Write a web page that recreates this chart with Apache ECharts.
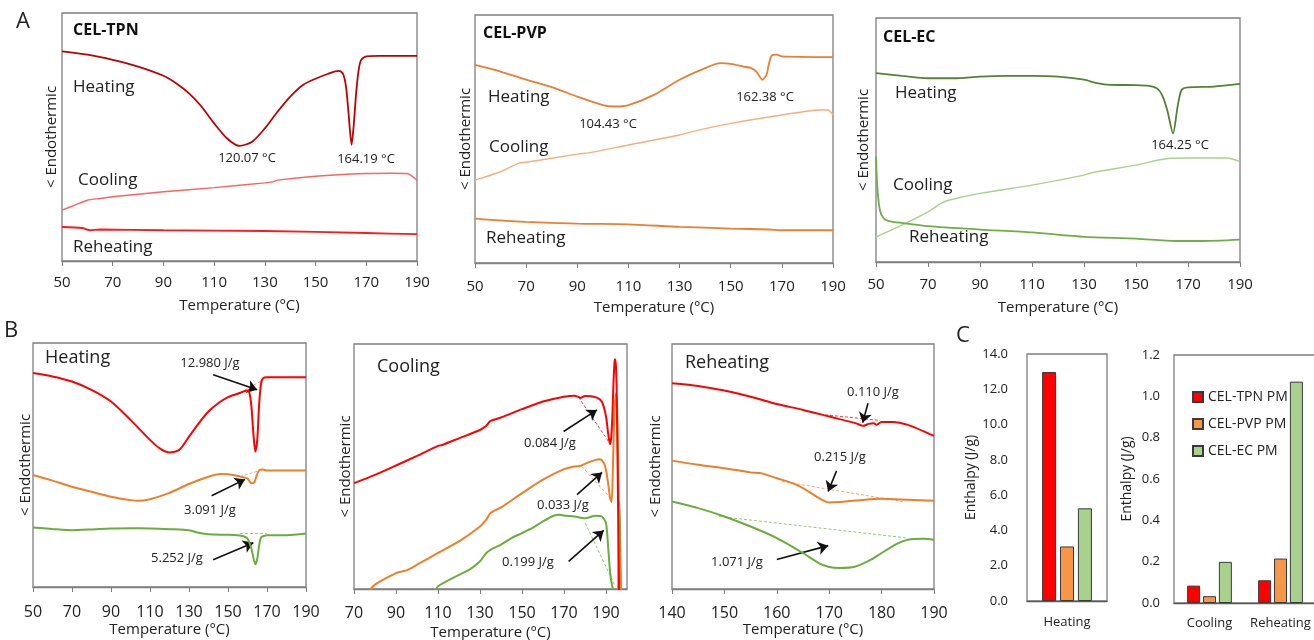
<!DOCTYPE html>
<html>
<head>
<meta charset="utf-8">
<script src="https://cdn.jsdelivr.net/npm/echarts@6/dist/echarts.min.js"></script>
<style>
  html, body { margin: 0; padding: 0; background: #fff; }
  #chart { width: 1314px; height: 640px; }
</style>
</head>
<body>
<div id="chart"></div>
<script>
// DSC traces, [temperature °C, signal in arbitrary units]
const tpnHeat = [[50,84.5],[60,83.2],[70,81.1],[80,78.4],[90,74.7],[95,71.7],[100,67.7],[105,62.3],[110,55.5],[115,49.5],[120,46.4],[125,48.1],[130,53.5],[135,60.2],[140,66.3],[145,71.0],[150,73.5],[155,75.5],[159,76.7],[160,76.4],[161,75.1],[162,70.4],[163,59.6],[164.2,46.8],[165,54.2],[166,67.7],[167,77.1],[168,81.1],[170,82.5],[175,82.7],[190,82.7]];
const tpnCool = [[50,20.5],[55,22.5],[60,24.5],[65,25.2],[70,25.9],[90,27.9],[110,29.6],[130,31.5],[133,31.9],[135,32.6],[150,34.2],[170,35.3],[180,35.4],[186,35.3],[190,32.6]];
const tpnReheat = [[50,13.7],[58,13.3],[61,12.4],[65,12.7],[90,12.4],[130,12.1],[170,11.3],[190,10.8]];

const pvpHeat = [[50,79.9],[60,77.2],[70,73.9],[80,70.9],[90,67.1],[100,63.7],[104.4,63.1],[110,63.7],[120,67.8],[130,73.9],[140,78.6],[146,80.6],[150,80.3],[155,79.2],[158,78.6],[160,77.2],[162.4,73.9],[164,75.9],[165,80.6],[166,83.6],[168,84.0],[170,83.3],[190,83.0]];
const pvpCool = [[50,33.4],[60,36.8],[67,40.2],[70,40.6],[90,43.9],[95,44.5],[110,47.6],[130,51.6],[135,53.0],[150,56.3],[170,59.7],[185,61.7],[188,61.7],[190,59.7]];
const pvpReheat = [[50,17.9],[55,17.5],[70,16.6],[90,15.9],[110,15.6],[130,14.6],[150,13.9],[165,13.5],[170,13.2],[190,13.2]];

const ecHeat = [[50,77.4],[60,76.3],[70,75.3],[80,75.3],[90,76.0],[100,76.3],[110,76.3],[120,76.0],[130,74.7],[135,73.3],[140,72.6],[150,72.5],[155,72.2],[158,71.2],[160,68.5],[162,62.3],[164.25,52.7],[166,63.7],[167.5,70.5],[170,71.6],[180,71.9],[190,73.0]];
const ecCool = [[50,10.3],[60,15.1],[70,20.5],[75,24.0],[78,25.3],[90,28.1],[110,31.5],[130,35.6],[133,36.6],[150,39.7],[163,42.5],[170,42.6],[185,42.6],[190,41.1]];
const ecReheat = [[50,43.2],[50.5,30.8],[51.5,21.2],[53,17.8],[55,16.8],[60,16.0],[70,14.7],[90,13.3],[110,12.1],[130,10.3],[150,9.6],[165,8.6],[175,8.6],[190,9.2]];

// panel B, heating
const bHeatTpn = [[50,87.7],[60,86.3],[70,84.2],[80,80.8],[90,76.0],[100,68.5],[110,60.3],[115,56.8],[120,55.1],[125,56.2],[130,61.6],[135,67.1],[140,71.9],[145,75.3],[150,77.8],[155,79.2],[160,80.5],[161,79.5],[162,74.0],[163,63.0],[164,55.5],[165,60.3],[166,75.3],[167,83.6],[168,85.6],[170,86.0],[190,86.0]];
const bHeatPvp = [[50,45.9],[60,43.6],[70,41.1],[80,39.0],[90,37.0],[100,35.6],[104,35.3],[110,36.0],[120,38.6],[130,42.2],[140,45.2],[146,46.3],[150,46.2],[155,45.5],[158,44.9],[160,44.5],[162,42.5],[163.5,42.9],[164.5,45.2],[166,47.9],[168,48.2],[170,47.7],[190,47.7]];
const bHeatEc = [[50,24.4],[60,23.8],[70,23.3],[80,23.6],[90,24.0],[100,24.1],[110,24.0],[120,23.7],[130,23.3],[135,22.2],[140,21.6],[150,21.4],[155,21.2],[158,20.8],[160,19.9],[162,15.8],[164,9.3],[165,11.6],[166,17.1],[167,20.3],[170,21.2],[180,21.2],[190,21.9]];

// panel B, cooling
const bCoolTpn = [[70,43.2],[80,46.6],[90,50.4],[100,54.3],[110,58.4],[112,58.8],[120,61.5],[130,64.9],[133,66.6],[135,68.6],[140,70.0],[150,73.4],[160,76.5],[170,78.5],[175,78.9],[177,78.3],[178,78.0],[180,78.8],[185,78.3],[188,76.5],[190,70.4],[191,63.6],[191.9,59.1],[192.5,62],[193,70],[193.6,85],[194.1,93],[194.4,93.8],[194.8,90],[195.1,80],[195.4,60],[195.8,30],[196.2,0],[196.5,-5]];
const bCoolPvp = [[76,-2],[80,1.8],[90,6.5],[93,7.2],[95,7.6],[100,9.9],[110,14.7],[120,19.4],[130,25.5],[133,28.3],[135,31.0],[140,33.3],[150,39.1],[160,44.6],[170,48.9],[175,50.0],[178,50.3],[180,51.1],[185,52.7],[187,53.0],[189,51.4],[190,48.6],[191,43.2],[192,37],[192.7,35.5],[193.3,50],[194,72],[194.8,80],[195.4,70],[196,40],[196.6,12],[197.2,-3]];
const bCoolEc = [[108.5,-2],[110,1.1],[120,5.8],[125,7.9],[130,11.3],[133,14.7],[135,16.0],[140,18.1],[145,20.8],[150,22.8],[155,24.9],[160,27.6],[165,29.9],[168,30.3],[170,30.0],[175,29.6],[180,28.9],[185,29.9],[188,29.6],[190,26.9],[191,17.4],[192,6.5],[193,1],[194.3,-2],[195.6,-2],[196.1,25],[196.4,35],[196.7,25],[197.1,-2]];

// panel B, reheating
const bReTpn = [[140,84.0],[145,82.9],[150,81.0],[155,78.5],[160,75.5],[165,73.1],[170,70.4],[175,67.7],[176.5,66.6],[177.5,67.4],[178.5,67.7],[179,67.0],[180,68.2],[182,68.2],[185,67.0],[190,62.5]];
const bRePvp = [[140,52.4],[145,50.7],[150,49.3],[155,47.6],[157,47.3],[160,45.2],[163,43.2],[165,41.2],[167,38.5],[169,36.0],[170,35.3],[172,35.5],[175,36.1],[180,36.8],[185,36.4],[190,36.0]];
const bReEc = [[140,35.7],[145,33.0],[150,29.6],[155,25.5],[160,20.8],[165,14.7],[168,10.6],[170,9.0],[172,8.6],[175,9.2],[178,12.0],[180,14.7],[183,18.5],[185,20.1],[188,20.5],[190,20.1]];

// peak baselines and arrows [[T1,v1],[T2,v2]]
const heatBase = [[[158.7,80.8],[168.1,84.9]], [[156.1,45.2],[168.1,48.2]], [[156.1,21.9],[169.8,21.9]]];
const heatArrows = [[[142.4,87.0],[165,80.8]], [[141.6,37.4],[158.7,44.1]], [[142.4,11.2],[163,18.1]]];
const coolBase = [[[176.9,78.3],[192,59.2]], [[178.5,50],[192.9,36.4]], [[180.1,26.9],[194.4,1.1]]];
const coolArrows = [[[169.8,64.3],[185.7,73.1]], [[176.2,38.5],[188.1,47.6]], [[172.2,11.3],[188.9,23.9]]];
const reBase = [[[169.2,71.1],[179.7,68.8]], [[161,43.9],[184,35.7]], [[149,29.6],[185,20.8]]];
const reArrows = [[[177.4,75.8],[176.4,67.9]], [[171.4,48.2],[169.8,39.8]], [[160,12.0],[169.8,17.7]]];

// panel C, enthalpy (J/g)
const samples = ['CEL-TPN PM', 'CEL-PVP PM', 'CEL-EC PM'];
const heatCats = ['Heating'];
const heatEnthalpy = [[12.980], [3.091], [5.252]];
const otherCats = ['Cooling', 'Reheating'];
const otherEnthalpy = [[0.084, 0.110], [0.033, 0.215], [0.199, 1.071]];

const FONT = '"Open Sans"';
const TXT = '#222';
const BORDER = '#7f7f7f';
const bColors = ['#ff0000', '#f07e26', '#6aad3d'];
const barColors = ['#ff0000', '#f79646', '#a9d18e'];

const chart = echarts.init(document.getElementById('chart'));

const grids = [
  { left: 62, top: 13, width: 355, height: 248 },
  { left: 475, top: 15, width: 358, height: 248 },
  { left: 876, top: 18, width: 364, height: 244 },
  { left: 33, top: 343, width: 273, height: 244 },
  { left: 354, top: 344, width: 273, height: 245 },
  { left: 672, top: 344, width: 262, height: 245 },
  { left: 1027, top: 354, width: 80, height: 247 },
  { left: 1174, top: 355, width: 142, height: 248 }
].map(g => Object.assign({ show: true, borderColor: BORDER, borderWidth: 1.3, backgroundColor: 'transparent', outerBoundsMode: 'none' }, g));

function tempAxis(gi, min, max, interval, size, nameSize, margin, gap) {
  return {
    type: 'value', gridIndex: gi, min: min, max: max, interval: interval,
    name: 'Temperature (°C)', nameLocation: 'middle', nameGap: gap,
    nameTextStyle: { fontFamily: FONT, fontSize: nameSize, color: TXT },
    axisLine: { show: true, lineStyle: { color: BORDER, width: 1.3 } },
    axisTick: { show: true, length: 5, lineStyle: { color: BORDER } },
    axisLabel: { fontFamily: FONT, fontSize: size, color: TXT, margin: margin, showMaxLabel: max <= 190 },
    splitLine: { show: false }
  };
}

function endoAxis(gi, gap, size) {
  return {
    type: 'value', gridIndex: gi, min: 0, max: 100,
    name: '< Endothermic', nameLocation: 'middle', nameGap: gap, nameRotate: 90,
    nameTextStyle: { fontFamily: FONT, fontSize: size, color: TXT },
    axisLine: { show: false }, axisTick: { show: false }, axisLabel: { show: false }, splitLine: { show: false }
  };
}

function curve(gi, data, color, width) {
  return {
    type: 'line', xAxisIndex: gi, yAxisIndex: gi, data: data,
    showSymbol: false, smooth: 0.25, silent: true,
    lineStyle: { color: color, width: width }
  };
}

function segs(gi, pairs, colors, dashed) {
  return {
    type: 'lines', coordinateSystem: 'cartesian2d', xAxisIndex: gi, yAxisIndex: gi, silent: true,
    symbol: dashed ? 'none' : ['none', 'arrow'], symbolSize: dashed ? 0 : 10,
    data: pairs.map((p, i) => ({
      coords: p,
      lineStyle: { color: dashed ? colors[i] : '#111', width: dashed ? 1 : 1.6, type: dashed ? [3, 2] : 'solid', opacity: 1 }
    }))
  };
}

function enthalpyAxis(gi, max, interval, gap, margin) {
  return {
    type: 'value', gridIndex: gi, min: 0, max: max, interval: interval,
    name: 'Enthalpy (J/g)', nameLocation: 'middle', nameGap: gap,
    nameTextStyle: { fontFamily: FONT, fontSize: 14, color: TXT },
    axisLine: { show: false }, axisTick: { show: false }, splitLine: { show: false },
    axisLabel: { fontFamily: FONT, fontSize: 13, color: TXT, margin: margin, formatter: v => v.toFixed(1) }
  };
}

function catAxis(gi, cats, margin) {
  return {
    type: 'category', gridIndex: gi, data: cats,
    axisLine: { show: true, lineStyle: { color: '#595959', width: 1.3 } },
    axisTick: { show: false },
    axisLabel: { fontFamily: FONT, fontSize: 13, color: TXT, margin: margin, interval: 0, hideOverlap: false }
  };
}

function bars(gi, values, width, gap) {
  return values.map((v, i) => ({
    type: 'bar', name: samples[i], xAxisIndex: gi, yAxisIndex: gi, data: v,
    barWidth: width, barGap: gap,
    itemStyle: { color: barColors[i], borderColor: '#3a3a3a', borderWidth: 1 }
  }));
}

function label(text, x, y, size, opts) {
  return {
    type: 'text', x: x, y: y, silent: true,
    style: Object.assign({ text: text, fill: TXT, font: size + 'px ' + FONT, align: 'left', verticalAlign: 'middle' }, opts || {})
  };
}
const bold = { font: 'bold 16px ' + FONT, fill: '#111' };
const mid = { align: 'center' };

const option = {
  animation: false,
  grid: grids,
  xAxis: [
    tempAxis(0, 50, 190, 20, 15, 15, 14, 37),
    tempAxis(1, 50, 190, 20, 15, 15, 16, 37),
    tempAxis(2, 50, 190, 20, 15, 15, 15, 38),
    tempAxis(3, 50, 190, 20, 16, 15, 17, 35),
    tempAxis(4, 70, 200, 20, 16, 15, 16, 36),
    tempAxis(5, 140, 190, 10, 16, 15, 16, 29),
    catAxis(6, heatCats, 15),
    catAxis(7, otherCats, 14)
  ],
  yAxis: [
    endoAxis(0, 3, 15), endoAxis(1, 2, 15), endoAxis(2, 5, 15),
    endoAxis(3, 0, 15), endoAxis(4, 1, 15), endoAxis(5, 9, 15),
    enthalpyAxis(6, 14, 2, 44, 19),
    enthalpyAxis(7, 1.2, 0.2, 40, 14)
  ],
  legend: {
    data: samples, orient: 'vertical', left: 1187, top: 385,
    icon: 'rect', itemWidth: 10, itemHeight: 10, itemGap: 13, selectedMode: false,
    textStyle: { fontFamily: FONT, fontSize: 14, color: TXT }
  },
  series: [
    curve(0, tpnHeat, '#c00000', 1.8), curve(0, tpnCool, '#ff6161', 1.4), curve(0, tpnReheat, '#ff1a1a', 1.8),
    curve(1, pvpHeat, '#ed7d31', 1.8), curve(1, pvpCool, '#f7ae7c', 1.4), curve(1, pvpReheat, '#f07d2e', 1.8),
    curve(2, ecHeat, '#548235', 1.8), curve(2, ecCool, '#a9d18e', 1.4), curve(2, ecReheat, '#70ad47', 1.8),
    curve(3, bHeatTpn, bColors[0], 2), curve(3, bHeatPvp, bColors[1], 2), curve(3, bHeatEc, bColors[2], 2),
    curve(4, bCoolEc, bColors[2], 2), curve(4, bCoolPvp, bColors[1], 2), curve(4, bCoolTpn, bColors[0], 2),
    curve(5, bReTpn, bColors[0], 2), curve(5, bRePvp, bColors[1], 2), curve(5, bReEc, bColors[2], 2),
    segs(3, heatBase, ['#ff8a8a', '#f6a66e', '#93c873'], true), segs(3, heatArrows, null, false),
    segs(4, coolBase, ['#e04040', '#f6a66e', '#93c873'], true), segs(4, coolArrows, null, false),
    segs(5, reBase, ['#e04040', '#f6a66e', '#93c873'], true), segs(5, reArrows, null, false)
  ].concat(bars(6, heatEnthalpy, 14, '28%'), bars(7, otherEnthalpy, 13, '22%')),
  graphic: [
    label('A', 16, 22, 22),
    label('CEL-TPN', 73, 30, 16, bold),
    label('Heating', 73, 87, 17),
    label('120.07 °C', 247, 158, 13, mid),
    label('164.19 °C', 366, 159, 13, mid),
    label('Cooling', 78, 180, 17),
    label('Reheating', 73, 247, 17),

    label('CEL-PVP', 483, 33, 16, bold),
    label('Heating', 488, 97, 17),
    label('104.43 °C', 608, 124, 13, mid),
    label('162.38 °C', 765, 97, 13, mid),
    label('Cooling', 489, 147, 17),
    label('Reheating', 486, 238, 17),

    label('CEL-EC', 883, 37, 16, bold),
    label('Heating', 895, 93, 17),
    label('164.25 °C', 1180, 145, 13, mid),
    label('Cooling', 893, 185, 17),
    label('Reheating', 909, 237, 17),

    label('B', 4, 331, 22),
    label('Heating', 45, 358, 18),
    label('12.980 J/g', 210, 363, 13, mid),
    label('3.091 J/g', 210, 510, 13, mid),
    label('5.252 J/g', 177, 558, 13, mid),
    label('Cooling', 377, 367, 18),
    label('0.084 J/g', 550, 443, 13, mid),
    label('0.033 J/g', 563, 505, 13, mid),
    label('0.199 J/g', 528, 562, 13, mid),
    label('Reheating', 685, 363, 18),
    label('0.110 J/g', 873, 392, 13, mid),
    label('0.215 J/g', 840, 457, 13, mid),
    label('1.071 J/g', 737, 562, 13, mid),

    label('C', 956, 336, 22)
  ]
};

chart.setOption(option);
</script>
</body>
</html>
